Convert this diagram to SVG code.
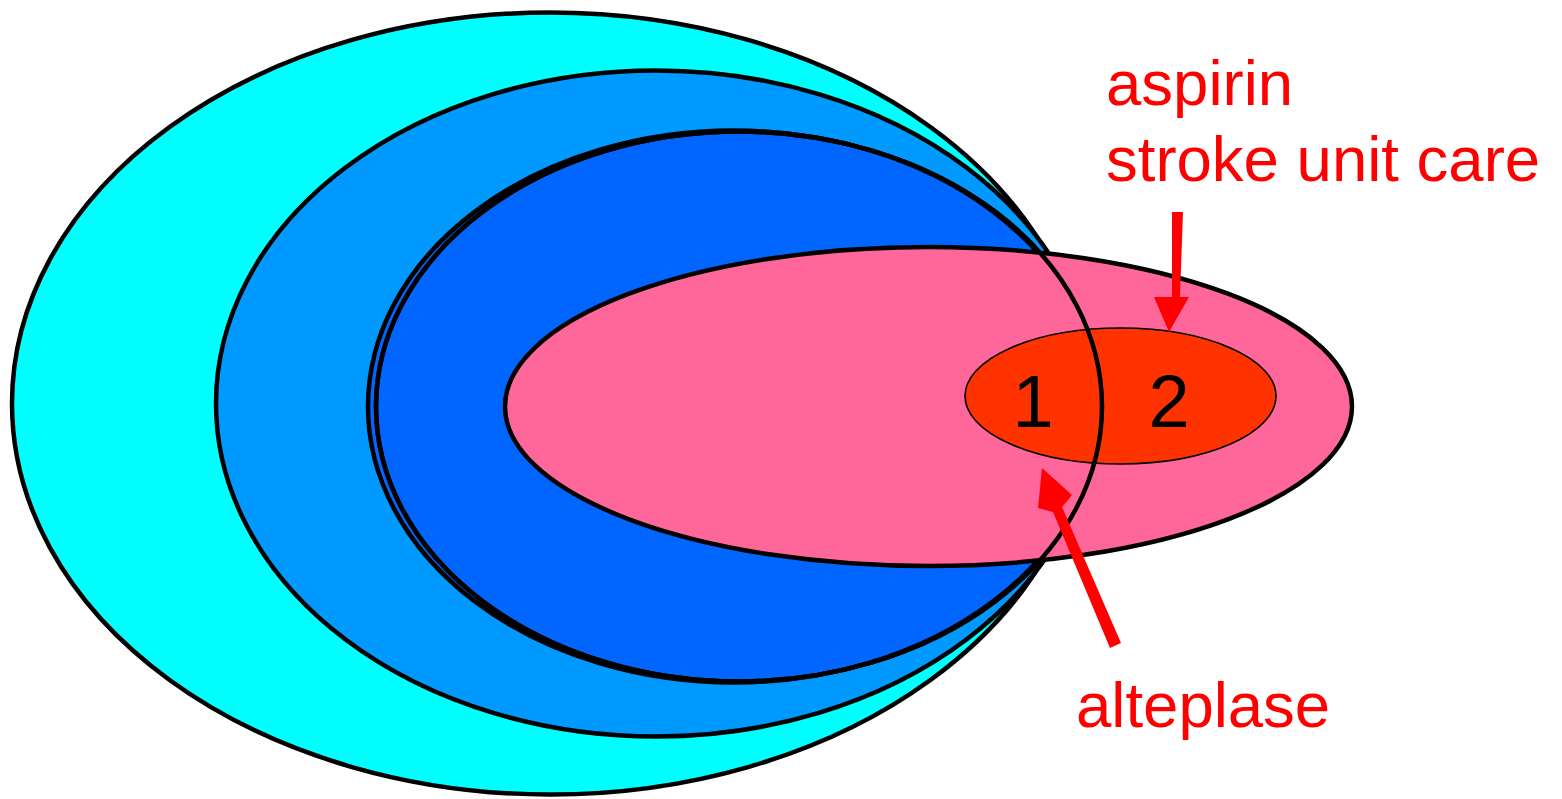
<svg xmlns="http://www.w3.org/2000/svg" width="1562" height="799" viewBox="0 0 1562 799">
<style>
.o{stroke:#000;stroke-width:4.5}
.lbl{font-family:"Liberation Sans",Arial,sans-serif;font-size:63.5px;fill:#FF0000}
.num{font-family:"Liberation Sans",Arial,sans-serif;font-size:74px;fill:#000;text-anchor:middle}
.arr{fill:#FF0000}
</style>
<rect width="1562" height="799" fill="#fff"/>
<g id="cyan"><ellipse class="o" cx="550" cy="403.5" rx="538" ry="391" fill="#00FFFF"/></g>
<g id="lightblue"><ellipse class="o" cx="656" cy="403.5" rx="440" ry="333" fill="#0099FF"/></g>
<g id="blue">
<ellipse class="o" cx="734" cy="406.5" rx="366" ry="276" fill="#0066FF"/>
<ellipse class="o" cx="739" cy="406.5" rx="363" ry="275" fill="none"/>
</g>
<g id="pink"><ellipse class="o" cx="928.5" cy="406.5" rx="423.5" ry="159.5" fill="#FF6699"/></g>
<g id="orange">
<path d="M1232,437 Q1246,436 1252,426 Q1250,438 1232,437 Z" fill="#000"/>
<ellipse cx="1120.5" cy="396" rx="155.5" ry="68" fill="#FF3300" stroke="#000" stroke-width="1.6"/>
</g>
<g id="blue-edge">
<ellipse class="o" cx="739" cy="406.5" rx="363" ry="275" fill="none"/>
</g>
<g id="labels">
<text class="num" x="1033" y="427">1</text>
<text class="num" x="1169" y="427">2</text>
<text class="lbl" x="1106" y="105">aspirin</text>
<text class="lbl" x="1106" y="181">stroke unit care</text>
<text class="lbl" x="1076" y="727">alteplase</text>
</g>
<g id="connectors">
<polygon class="arr" points="1172,212 1183,212 1180,297 1189,297 1169,332 1154,297 1172,297"/>
<polygon class="arr" points="1121,643 1110,648 1053,512 1038,508 1042,468 1072,495 1062,507"/>
</g>
</svg>
